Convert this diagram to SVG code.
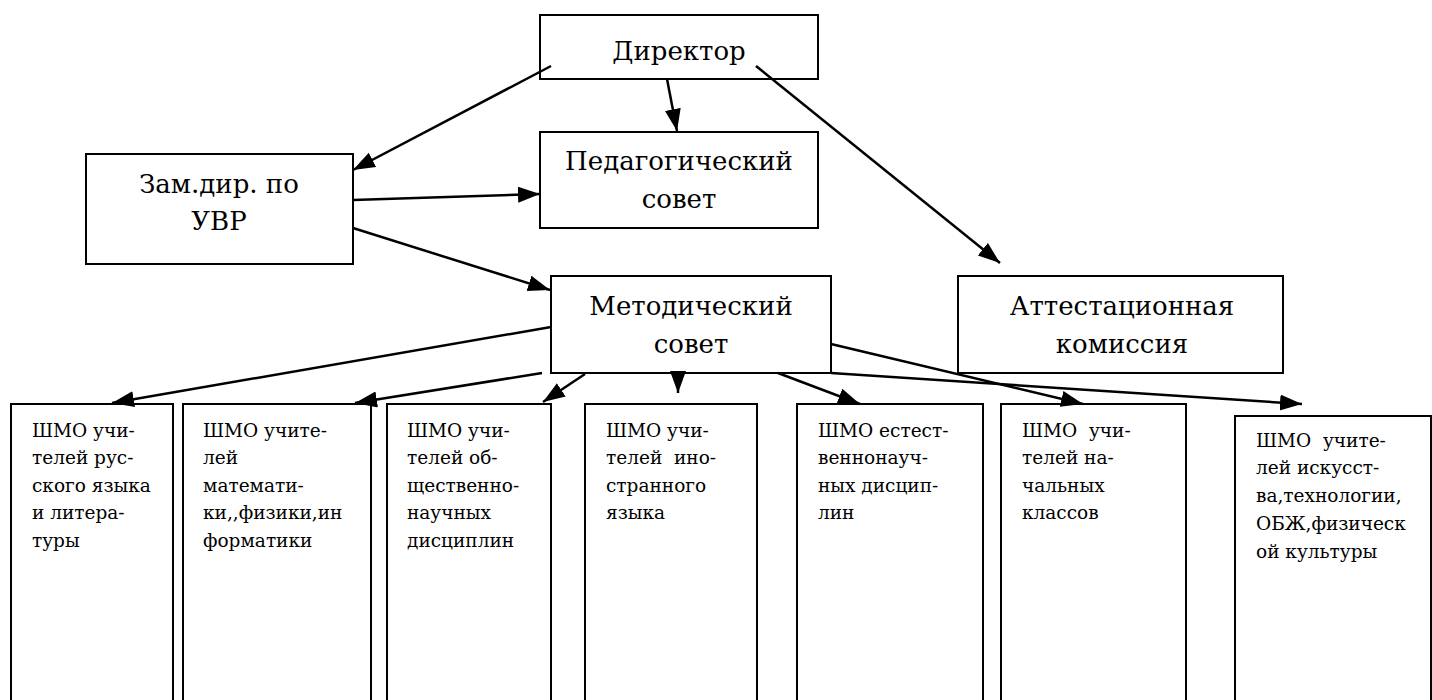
<svg xmlns="http://www.w3.org/2000/svg" width="1432" height="700" viewBox="0 0 1432 700">
<style>
.box{fill:#fff;stroke:#000;stroke-width:2}
.big{font-family:'DejaVu Serif',serif;font-size:26px;fill:#000;text-anchor:middle}
.sm{font-family:'DejaVu Serif',serif;font-size:18.5px;fill:#000}
.con line{stroke:#000;stroke-width:2.5;marker-end:url(#ah)}
</style>
<defs>
<marker id="ah" markerUnits="userSpaceOnUse" markerWidth="26" markerHeight="18" refX="22" refY="8" orient="auto">
<path d="M0,0 L22,8 L0,16 z" fill="#000"/>
</marker>
</defs>
<rect width="1432" height="700" fill="#fff"/>
<g id="director"><rect class="box" x="540" y="15" width="278" height="64"/><text class="big" x="679" y="60">Директор</text></g>
<g id="pedsovet"><rect class="box" x="540" y="132" width="278" height="96"/><text class="big" x="679" y="170">Педагогический</text><text class="big" x="679" y="208">совет</text></g>
<g id="zam"><rect class="box" x="86" y="154" width="267" height="110"/><text class="big" x="219" y="193">Зам.дир. по</text><text class="big" x="219" y="230">УВР</text></g>
<g id="metsovet"><rect class="box" x="551" y="276" width="280" height="97"/><text class="big" x="691" y="315">Методический</text><text class="big" x="691" y="353">совет</text></g>
<g id="attest"><rect class="box" x="958" y="276" width="325" height="97"/><text class="big" x="1122" y="315">Аттестационная</text><text class="big" x="1122" y="353">комиссия</text></g>
<g id="shmo1"><rect class="box" x="11" y="404" width="162" height="310"/><text class="sm"><tspan x="32" y="437">ШМО учи-</tspan><tspan x="32" y="464">телей рус-</tspan><tspan x="32" y="492">ского языка</tspan><tspan x="32" y="519">и литера-</tspan><tspan x="32" y="547">туры</tspan></text></g>
<g id="shmo2"><rect class="box" x="183" y="404" width="188" height="310"/><text class="sm"><tspan x="203" y="437">ШМО учите-</tspan><tspan x="203" y="464">лей</tspan><tspan x="203" y="492">математи-</tspan><tspan x="203" y="519">ки,,физики,ин</tspan><tspan x="203" y="547">форматики</tspan></text></g>
<g id="shmo3"><rect class="box" x="387" y="404" width="164" height="310"/><text class="sm"><tspan x="407" y="437">ШМО учи-</tspan><tspan x="407" y="464">телей об-</tspan><tspan x="407" y="492">щественно-</tspan><tspan x="407" y="519">научных</tspan><tspan x="407" y="547">дисциплин</tspan></text></g>
<g id="shmo4"><rect class="box" x="585" y="404" width="172" height="310"/><text class="sm" xml:space="preserve"><tspan x="606" y="437">ШМО учи-</tspan><tspan x="606" y="464">телей  ино-</tspan><tspan x="606" y="492">странного</tspan><tspan x="606" y="519">языка</tspan></text></g>
<g id="shmo5"><rect class="box" x="797" y="404" width="186" height="310"/><text class="sm"><tspan x="818" y="437">ШМО естест-</tspan><tspan x="818" y="464">веннонауч-</tspan><tspan x="818" y="492">ных дисцип-</tspan><tspan x="818" y="519">лин</tspan></text></g>
<g id="shmo6"><rect class="box" x="1001" y="404" width="185" height="310"/><text class="sm" xml:space="preserve"><tspan x="1022" y="437">ШМО  учи-</tspan><tspan x="1022" y="464">телей на-</tspan><tspan x="1022" y="492">чальных</tspan><tspan x="1022" y="519">классов</tspan></text></g>
<g id="shmo7"><rect class="box" x="1235" y="416" width="196" height="300"/><text class="sm" xml:space="preserve"><tspan x="1256" y="447">ШМО  учите-</tspan><tspan x="1256" y="474">лей искусст-</tspan><tspan x="1256" y="502">ва,технологии,</tspan><tspan x="1256" y="530">ОБЖ,физическ</tspan><tspan x="1256" y="558">ой культуры</tspan></text></g>
<g id="connectors" class="con">
<line x1="551" y1="66" x2="353" y2="170"/>
<line x1="667" y1="79" x2="677" y2="131"/>
<line x1="756" y1="66" x2="1000" y2="263"/>
<line x1="353" y1="200" x2="540" y2="194"/>
<line x1="353" y1="228" x2="550" y2="290"/>
<line x1="551" y1="327" x2="112" y2="403"/>
<line x1="542" y1="373" x2="355" y2="403"/>
<line x1="585" y1="374" x2="543" y2="402"/>
<line x1="678" y1="373" x2="678" y2="393"/>
<line x1="778" y1="373" x2="860" y2="404"/>
<line x1="831" y1="344" x2="1083" y2="404"/>
<line x1="831" y1="373" x2="1302" y2="404"/>
</g>
</svg>
